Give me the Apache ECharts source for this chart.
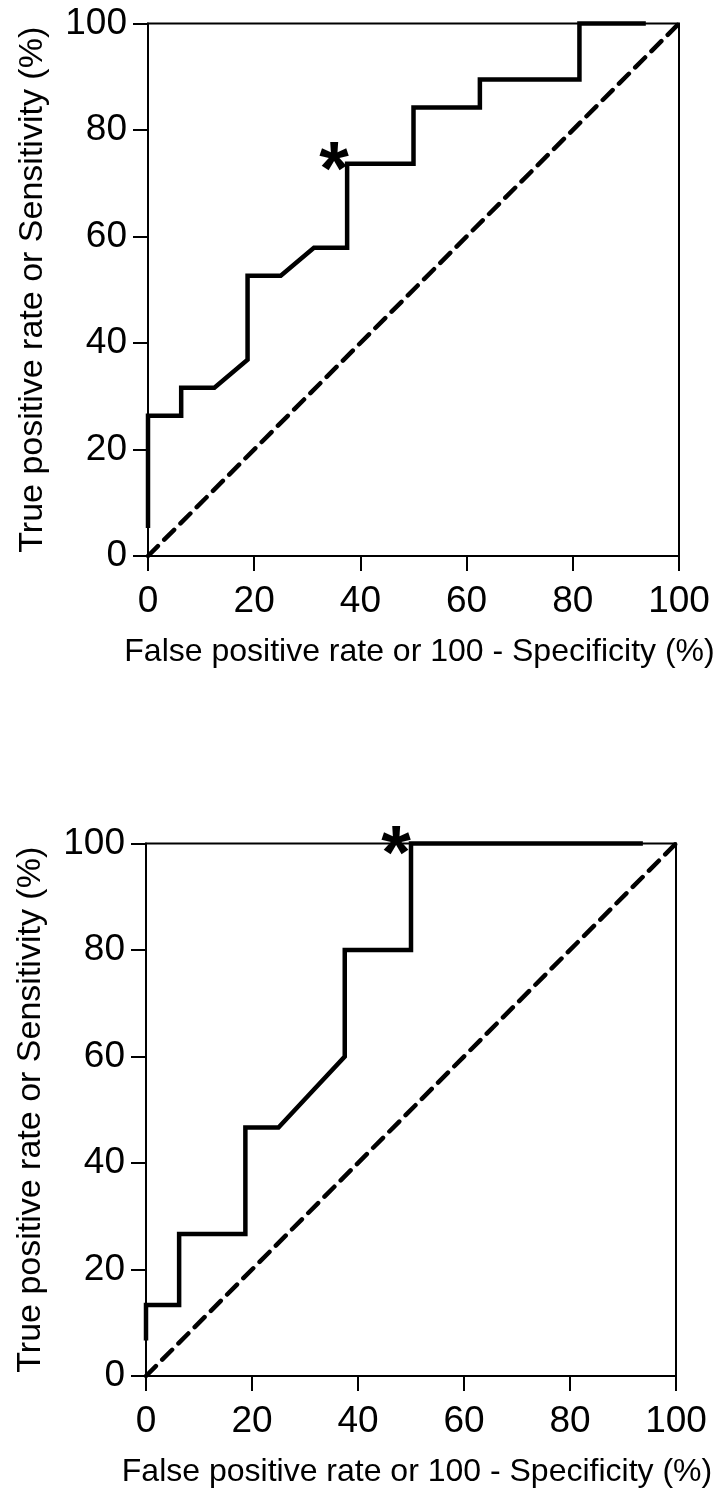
<!DOCTYPE html>
<html><head><meta charset="utf-8">
<script src="https://cdn.jsdelivr.net/npm/echarts@6/dist/echarts.min.js"></script>
<style>html,body{margin:0;padding:0;background:#fff}#c{width:726px;height:1502px}</style>
</head><body><div id="c"></div>
<script>
// Panel A (top) ROC curve
const topFpr = [0, 0, 0, 0, 0, 6.25, 6.25, 12.5, 18.75, 18.75, 18.75, 18.75, 25, 31.25, 37.5, 37.5, 37.5, 37.5, 43.75, 50, 50, 50, 56.25, 62.5, 62.5, 68.75, 75, 81.25, 81.25, 81.25, 87.5, 93.75];
const topTpr = [5.26, 10.53, 15.79, 21.05, 26.32, 26.32, 31.58, 31.58, 36.84, 42.11, 47.37, 52.63, 52.63, 57.89, 57.89, 63.16, 68.42, 73.68, 73.68, 73.68, 78.95, 84.21, 84.21, 84.21, 89.47, 89.47, 89.47, 89.47, 94.74, 100, 100, 100];
const topCutoff = [37.5, 73.68];

// Panel B (bottom) ROC curve
const botFpr = [0, 0, 6.25, 6.25, 6.25, 12.5, 18.75, 18.75, 18.75, 18.75, 25, 31.25, 37.5, 37.5, 37.5, 37.5, 43.75, 50, 50, 50, 50, 56.25, 62.5, 68.75, 75, 81.25, 87.5, 93.75];
const botTpr = [6.67, 13.33, 13.33, 20, 26.67, 26.67, 26.67, 33.33, 40, 46.67, 46.67, 53.33, 60, 66.67, 73.33, 80, 80, 80, 86.67, 93.33, 100, 100, 100, 100, 100, 100, 100, 100];
const botCutoff = [50, 100];

// Line of identity
const refLine = [0, 100];
const axisTicks = [0, 20, 40, 60, 80, 100];

const xTitle = 'False positive rate or 100 - Specificity (%)';
const yTitle = 'True positive rate or Sensitivity (%)';

const zip = (a, b) => a.map((v, i) => [v, b[i]]);
const FONT = '"Liberation Sans", Arial, sans-serif';

function xAxisDef(gi) {
  return {
    type: 'value', gridIndex: gi, min: axisTicks[0], max: axisTicks[axisTicks.length - 1], interval: axisTicks[1] - axisTicks[0],
    splitLine: { show: false },
    axisLine: { lineStyle: { color: '#000', width: 2 } },
    axisTick: { length: 15, lineStyle: { color: '#000', width: 2 } },
    axisLabel: { color: '#000', fontSize: 37, fontFamily: FONT, margin: 27 },
    name: xTitle, nameLocation: 'middle', nameGap: 80,
    nameTextStyle: { color: '#000', fontSize: 32, fontFamily: FONT, padding: [0, 0, 0, 12] }
  };
}
function yAxisDef(gi) {
  return {
    type: 'value', gridIndex: gi, min: axisTicks[0], max: axisTicks[axisTicks.length - 1], interval: axisTicks[1] - axisTicks[0],
    splitLine: { show: false },
    axisLine: { lineStyle: { color: '#000', width: 2 } },
    axisTick: { length: 15, lineStyle: { color: '#000', width: 2 } },
    axisLabel: { color: '#000', fontSize: 37, fontFamily: FONT, margin: 21 },
    name: yTitle, nameLocation: 'middle', nameGap: 98,
    nameTextStyle: { color: '#000', fontSize: 34, fontFamily: FONT }
  };
}
function rocSeries(gi, data) {
  return {
    type: 'line', xAxisIndex: gi, yAxisIndex: gi, data: data, showSymbol: false, clip: false,
    lineStyle: { color: '#000', width: 4.5, join: 'miter' }, animation: false, z: 5
  };
}
function refSeries(gi) {
  return {
    type: 'line', xAxisIndex: gi, yAxisIndex: gi, data: [[refLine[0], refLine[0]], [refLine[1], refLine[1]]],
    showSymbol: false, clip: false,
    lineStyle: { color: '#000', width: 4.5, type: [14, 9], cap: 'round' }, animation: false, z: 4
  };
}
function starSeries(gi, pt, off) {
  return {
    type: 'scatter', xAxisIndex: gi, yAxisIndex: gi, data: [pt], symbolSize: 0, clip: false, z: 6,
    itemStyle: { opacity: 1, color: '#000' },
    label: { show: true, formatter: '*', position: 'inside', offset: off, color: '#000', opacity: 1,
      fontSize: 76, fontWeight: 'bold', fontFamily: FONT },
    animation: false
  };
}

const gridBase = { show: true, borderColor: '#000', borderWidth: 2, backgroundColor: 'transparent',
  containLabel: false, outerBoundsMode: 'none' };

const chart = echarts.init(document.getElementById('c'), null, { renderer: 'canvas' });
chart.setOption({
  backgroundColor: '#fff',
  animation: false,
  grid: [
    Object.assign({ left: 148, top: 23.5, width: 531, height: 532.5 }, gridBase),
    Object.assign({ left: 146, top: 843.5, width: 530, height: 532.5 }, gridBase)
  ],
  xAxis: [xAxisDef(0), xAxisDef(1)],
  yAxis: [yAxisDef(0), yAxisDef(1)],
  series: [
    refSeries(0), rocSeries(0, zip(topFpr, topTpr)), starSeries(0, topCutoff, [-13, 9]),
    refSeries(1), rocSeries(1, zip(botFpr, botTpr)), starSeries(1, botCutoff, [-15, 14])
  ]
});
</script>
</body></html>
